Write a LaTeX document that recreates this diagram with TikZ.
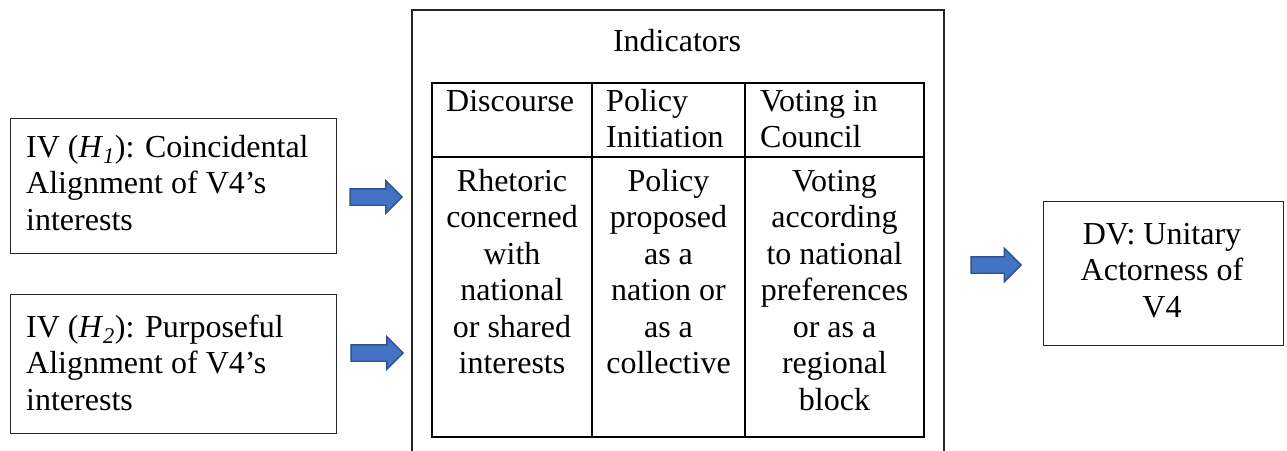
\documentclass[tikz,border=0pt]{standalone}
\usepackage{fontspec}
\setmainfont{Liberation Serif}
\usetikzlibrary{shapes.arrows}
\definecolor{arrowfill}{RGB}{68,114,196}
\definecolor{arrowline}{RGB}{47,82,143}
\newcommand\bigtxt{\fontsize{32}{36.5}\selectfont}
\begin{document}
\begin{tikzpicture}[x=1pt,y=-1pt,
  box/.style={draw=black!85, line width=1.1pt, inner sep=0pt},
  tbl/.style={draw=black, line width=2.2pt},
  txt/.style={inner sep=0pt, font=\bigtxt},
  blockarrow/.style={single arrow, fill=arrowfill, draw=arrowline, line width=1.4pt,
    inner xsep=0pt, inner ysep=7.5pt, single arrow head extend=8pt,
    minimum height=52pt, anchor=center}]
\useasboundingbox (0,0) rectangle (1287,450);

% left boxes
\node[box, minimum width=326pt, minimum height=135pt, anchor=north west] (iv1) at (10,118) {};
\node[txt, anchor=north west, align=left] (iv1t) at (26,131.45)
  {\strut IV (\textit{H}\textsubscript{\textit{1}}): Coincidental\\Alignment of V4’s\\interests};
\node[box, minimum width=326pt, minimum height=139pt, anchor=north west] (iv2) at (10,294) {};
\node[txt, anchor=north west, align=left] (iv2t) at (26,311.45)
  {\strut IV (\textit{H}\textsubscript{\textit{2}}): Purposeful\\Alignment of V4’s\\interests};

% outer indicators box (cut off at bottom)
\coordinate (obl) at (412,452);
\coordinate (otl) at (412,10);
\coordinate (otr) at (944,10);
\coordinate (obr) at (944,452);
\draw[draw=black!85, line width=1.1pt] (obl) -- (otl) -- (otr) -- (obr);
\node[txt, anchor=base] (ind) at (677,51) {Indicators};

% table
\coordinate (ttl) at (432,83);
\coordinate (tbr) at (924,437);
\coordinate (hl) at (432,157);
\coordinate (hr) at (924,157);
\coordinate (c1t) at (592,83);
\coordinate (c1b) at (592,437);
\coordinate (c2t) at (745,83);
\coordinate (c2b) at (745,437);
\draw[tbl] (ttl) rectangle (tbr);
\draw[tbl] (hl) -- (hr);
\draw[tbl] (c1t) -- (c1b);
\draw[tbl] (c2t) -- (c2b);

\node[txt, anchor=north west, align=left] (h1) at (446,85.45) {\strut Discourse};
\node[txt, anchor=north west, align=left] (h2) at (606,85.45) {\strut Policy\\Initiation};
\node[txt, anchor=north west, align=left] (h3) at (760,85.45) {\strut Voting in\\Council};

\node[txt, anchor=north, align=center] (b1) at (512,165.45)
  {\strut Rhetoric\\concerned\\with\\national\\or shared\\interests};
\node[txt, anchor=north, align=center] (b2) at (668.5,165.45)
  {\strut Policy\\proposed\\as a\\nation or\\as a\\collective};
\node[txt, anchor=north, align=center] (b3) at (834.5,165.45)
  {\strut Voting\\according\\to national\\preferences\\or as a\\regional\\block};

% DV box
\node[box, minimum width=240pt, minimum height=144pt, anchor=north west] (dv) at (1043,201) {};
\node[txt, anchor=north, align=center] (dvt) at (1162,218.45)
  {\strut DV: Unitary\\Actorness of\\V4};

% block arrows
\node[blockarrow] (a1) at (372,197) {};
\node[blockarrow] (a2) at (373,353) {};
\node[blockarrow, minimum height=50pt, single arrow head extend=8.5pt] (a3) at (992,265) {};
\end{tikzpicture}
\end{document}
